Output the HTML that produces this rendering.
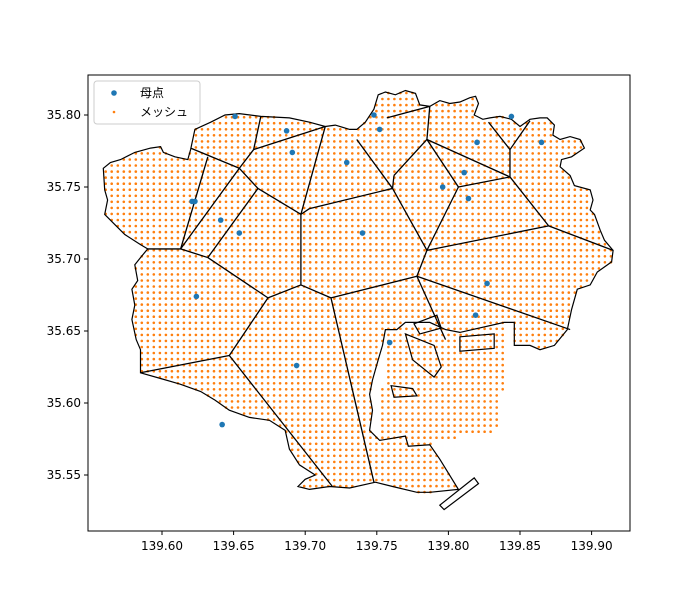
<!DOCTYPE html>
<html><head><meta charset="utf-8"><style>
body{margin:0;background:#fff}
svg text{font-family:"DejaVu Sans","Liberation Sans","Noto Sans CJK JP",sans-serif;font-size:12px;fill:#000}
</style></head><body>
<svg id="c" width="700" height="600"></svg>
<script>
const xTicks=[139.60,139.65,139.70,139.75,139.80,139.85,139.90];
const yTicks=[35.55,35.60,35.65,35.70,35.75,35.80];
const seedLon=[139.651,139.687,139.691,139.729,139.748,139.752,139.621,139.623,139.641,139.654,139.740,139.624,139.694,139.642,139.759,139.796,139.811,139.814,139.820,139.844,139.865,139.827,139.819];
const seedLat=[35.799,35.789,35.774,35.767,35.800,35.790,35.740,35.740,35.727,35.718,35.718,35.674,35.626,35.585,35.642,35.750,35.760,35.742,35.781,35.799,35.781,35.683,35.661];
const boundary=[[139.559,35.763],[139.564,35.767],[139.571,35.769],[139.581,35.774],[139.592,35.777],[139.599,35.778],[139.601,35.774],[139.609,35.771],[139.618,35.769],[139.620,35.776],[139.623,35.790],[139.634,35.795],[139.644,35.800],[139.654,35.801],[139.669,35.799],[139.689,35.798],[139.703,35.795],[139.714,35.792],[139.721,35.793],[139.731,35.790],[139.736,35.790],[139.742,35.795],[139.748,35.804],[139.751,35.814],[139.756,35.816],[139.763,35.814],[139.770,35.817],[139.777,35.815],[139.780,35.807],[139.787,35.806],[139.794,35.810],[139.801,35.808],[139.808,35.809],[139.815,35.812],[139.819,35.813],[139.821,35.808],[139.818,35.800],[139.824,35.797],[139.829,35.798],[139.836,35.799],[139.844,35.797],[139.850,35.792],[139.857,35.797],[139.864,35.798],[139.869,35.798],[139.874,35.793],[139.873,35.786],[139.878,35.783],[139.885,35.785],[139.892,35.783],[139.895,35.777],[139.886,35.771],[139.879,35.769],[139.878,35.764],[139.885,35.758],[139.888,35.751],[139.899,35.748],[139.901,35.741],[139.899,35.734],[139.902,35.731],[139.906,35.720],[139.909,35.713],[139.915,35.706],[139.914,35.698],[139.904,35.691],[139.899,35.682],[139.890,35.679],[139.886,35.665],[139.883,35.651],[139.874,35.640],[139.864,35.637],[139.857,35.640],[139.846,35.640],[139.846,35.656],[139.839,35.656],[139.808,35.649],[139.798,35.651],[139.787,35.656],[139.770,35.656],[139.764,35.651],[139.756,35.651],[139.754,35.640],[139.751,35.630],[139.747,35.616],[139.745,35.606],[139.747,35.595],[139.745,35.581],[139.752,35.574],[139.770,35.577],[139.772,35.570],[139.787,35.571],[139.794,35.561],[139.807,35.540],[139.787,35.538],[139.778,35.538],[139.761,35.542],[139.749,35.545],[139.731,35.541],[139.717,35.542],[139.703,35.540],[139.695,35.542],[139.700,35.547],[139.707,35.550],[139.696,35.557],[139.689,35.568],[139.686,35.581],[139.675,35.588],[139.661,35.590],[139.647,35.595],[139.637,35.602],[139.627,35.608],[139.613,35.613],[139.599,35.617],[139.585,35.621],[139.585,35.637],[139.582,35.644],[139.579,35.658],[139.581,35.668],[139.579,35.679],[139.583,35.685],[139.581,35.696],[139.585,35.701],[139.590,35.707],[139.585,35.710],[139.574,35.717],[139.567,35.724],[139.560,35.731],[139.562,35.741],[139.560,35.748]];
const bay=[[139.839,35.656],[139.839,35.616],[139.833,35.580],[139.794,35.574],[139.787,35.571],[139.794,35.561],[139.752,35.574],[139.756,35.651]];
const islands=[
 [[139.794,35.529],[139.797,35.526],[139.821,35.544],[139.818,35.548]],
 [[139.808,35.646],[139.832,35.648],[139.832,35.638],[139.808,35.636]],
 [[139.770,35.648],[139.790,35.640],[139.795,35.625],[139.790,35.618],[139.775,35.630]],
 [[139.776,35.655],[139.792,35.661],[139.795,35.652],[139.780,35.648]],
 [[139.760,35.612],[139.775,35.610],[139.778,35.605],[139.762,35.604]]
];
const V={1:[139.669,35.799],2:[139.664,35.776],3:[139.714,35.792],4:[139.697,35.731],5:[139.654,35.763],6:[139.620,35.777],7:[139.667,35.749],8:[139.613,35.707],9:[139.632,35.771],10:[139.590,35.707],11:[139.632,35.701],12:[139.703,35.735],13:[139.761,35.749],14:[139.736,35.783],15:[139.762,35.758],16:[139.785,35.783],17:[139.787,35.806],18:[139.757,35.798],20:[139.843,35.757],21:[139.807,35.750],22:[139.785,35.706],25:[139.870,35.723],26:[139.915,35.706],27:[139.843,35.776],28:[139.828,35.795],29:[139.857,35.796],30:[139.778,35.688],31:[139.718,35.673],32:[139.885,35.651],33:[139.798,35.644],34:[139.697,35.682],35:[139.674,35.673],36:[139.647,35.633],37:[139.585,35.621],38:[139.719,35.542],39:[139.748,35.545]};
const edges=[[1,2],[2,3],[3,4],[2,5],[6,5],[5,7],[7,4],[5,8],[9,8],[7,11],[8,11],[10,8],[4,12],[12,13],[13,14],[13,15],[15,16],[16,17],[18,17],[16,20],[16,21],[21,20],[21,22],[13,22],[22,25],[20,25],[25,26],[20,27],[27,28],[27,29],[22,30],[30,31],[30,33],[30,32],[4,34],[11,35],[35,34],[34,31],[35,36],[36,37],[36,38],[31,39]];
const meshStep=0.0042;

const NS='http://www.w3.org/2000/svg';
const svg=document.getElementById('c');
const X0=88,X1=630,Y0=75,Y1=531;
function sx(v){return 162+(v-139.60)*1432;}
function sy(v){return 115+(35.80-v)*1440;}
function mk(t,a,p){const e=document.createElementNS(NS,t);for(const k in a)e.setAttribute(k,a[k]);(p||svg).appendChild(e);return e;}
function inside(pt,poly){let c=false;for(let i=0,j=poly.length-1;i<poly.length;j=i++){const [xi,yi]=poly[i],[xj,yj]=poly[j];if(((yi>pt[1])!=(yj>pt[1]))&&(pt[0]<(xj-xi)*(pt[1]-yi)/(yj-yi)+xi))c=!c;}return c;}
function pts(poly){return poly.map(p=>sx(p[0]).toFixed(1)+','+sy(p[1]).toFixed(1)).join(' ');}

const gm=mk('g',{});


for(let lat=35.5255;lat<35.820;lat+=meshStep){for(let lon=139.5565;lon<139.925;lon+=meshStep){
 const p=[lon,lat];
 if(inside(p,boundary)||inside(p,bay)){
  const d=mk('circle',{cx:sx(lon).toFixed(1),cy:sy(lat).toFixed(1),r:1.3,fill:'#ff7f0e'},gm);
  
  
 }}}
const b=mk('polygon',{points:pts(boundary),fill:'none',stroke:'#000','stroke-width':1.2});


islands.forEach(is=>{const e=mk('polygon',{points:pts(is),fill:'none',stroke:'#000','stroke-width':1.2});
 
 });
edges.forEach(([a,c])=>{const e=mk('line',{x1:sx(V[a][0]),y1:sy(V[a][1]),x2:sx(V[c][0]),y2:sy(V[c][1]),stroke:'#000','stroke-width':1.3});
 
 });
seedLon.forEach((lo,i)=>{const e=mk('circle',{cx:sx(lo),cy:sy(seedLat[i]),r:2.8,fill:'#1f77b4'});
 
 });
const f=mk('rect',{x:X0,y:Y0,width:X1-X0,height:Y1-Y0,fill:'none',stroke:'#000','stroke-width':1});


xTicks.forEach(t=>{const x=sx(t);mk('line',{x1:x,y1:Y1,x2:x,y2:Y1+4,stroke:'#000'});
 const tx=mk('text',{x:x,y:Y1+19,'text-anchor':'middle'});tx.textContent=t.toFixed(2);
 
 });
yTicks.forEach(t=>{const y=sy(t);mk('line',{x1:X0-4,y1:y,x2:X0,y2:y,stroke:'#000'});
 const tx=mk('text',{x:X0-7,y:y+4,'text-anchor':'end'});tx.textContent=t.toFixed(2);
 
 });
const lg=mk('g',{});


mk('rect',{x:94,y:81,width:106,height:43,rx:3,fill:'#fff','fill-opacity':0.8,stroke:'#ccc'},lg);
mk('circle',{cx:114,cy:93,r:2.8,fill:'#1f77b4'},lg);
const l1=mk('text',{x:140,y:97},lg);l1.textContent='母点';


mk('circle',{cx:114,cy:112,r:1.3,fill:'#ff7f0e'},lg);
const l2=mk('text',{x:140,y:116},lg);l2.textContent='メッシュ';


</script>
</body></html>
